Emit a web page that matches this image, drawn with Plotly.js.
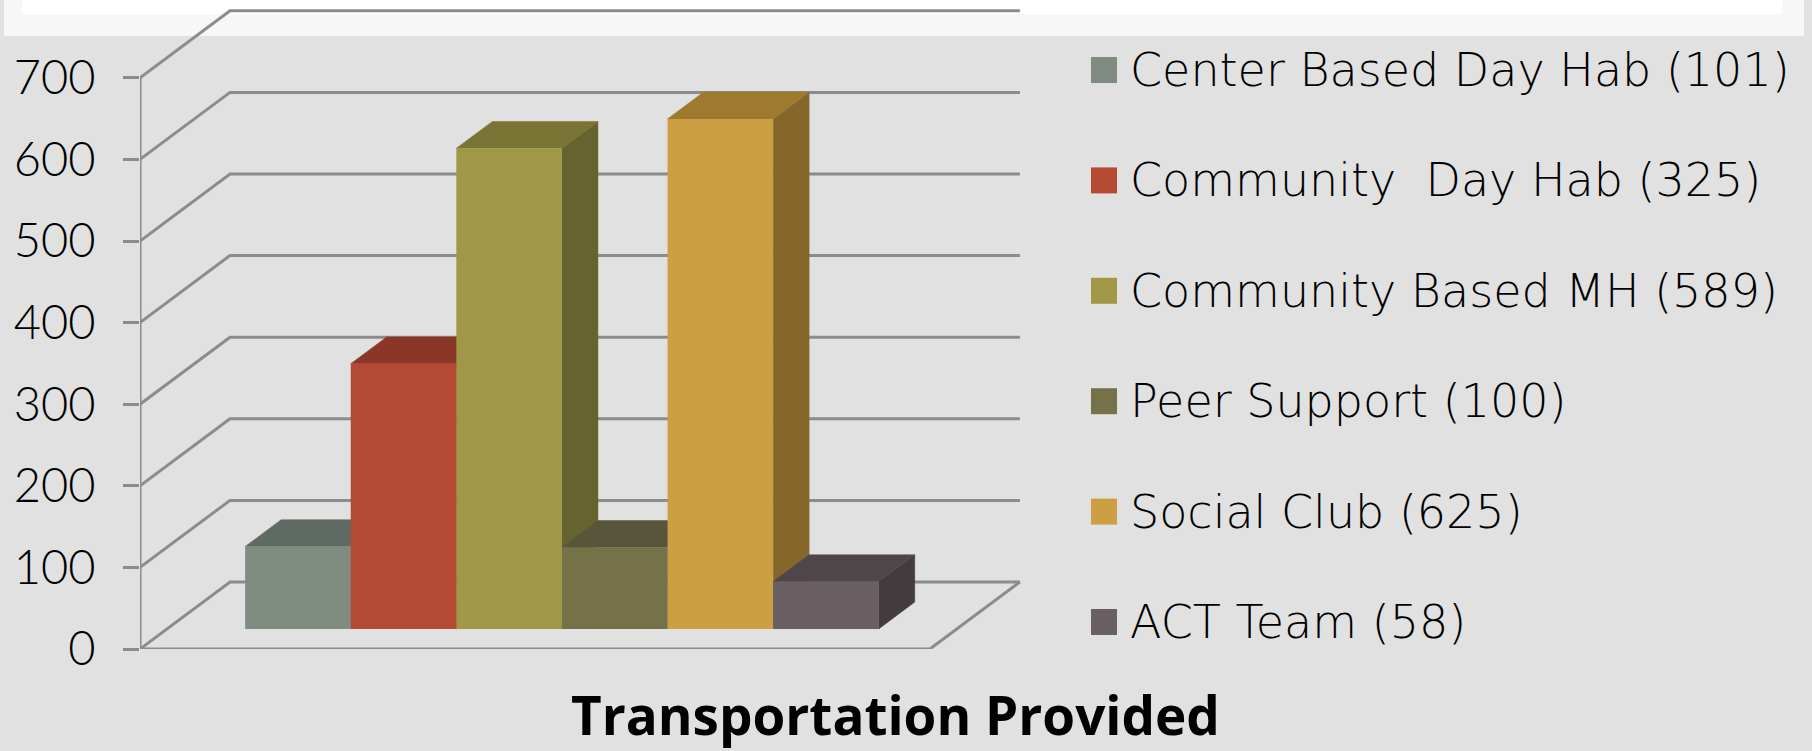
<!DOCTYPE html>
<html><head><meta charset="utf-8">
<script src="https://cdn.plot.ly/plotly-3.0.1.min.js"></script>
<style>html,body{margin:0;padding:0;background:#e1e1e1;overflow:hidden}</style>
</head><body><div id="chart" style="width:1812px;height:751px"></div>
<script>
const seriesNames = ["Center Based Day Hab (101)","Community \u00a0Day Hab (325)","Community Based MH (589)","Peer Support (100)","Social Club (625)","ACT Team (58)"];
const seriesValues = [101,325,589,100,625,58];
const valueTicks = [0,100,200,300,400,500,600,700];
const frontColors = ["#808c82","#b54a34","#a09846","#757249","#cd9f43","#6a5f63"];
const topColors = ["#5f6a62","#8b3727","#7b7535","#58563a","#9e7a2e","#4f4649"];
const sideColors = ["#515a53","#772f21","#67632e","#4a4931","#85672b","#433b3e"];
const chartTitle = "Transportation Provided";

const W = 1812, H = 751;
const plotL = 140, plotR = 1022, plotT = 0, plotB = 649;
const unitPx = 105.6, valPx = 0.816;
const floorW = 7.48, gap = 0.74;
const depthX = 90 / unitPx, depthY = 67 / valPx;
const barFront = 0.3, barBack = 0.7;
const xRange = [0, (plotR - plotL) / unitPx], yRange = [0, (plotB - plotT) / valPx];
const proj = (x, d, v) => [x + d * depthX, v + d * depthY];
const gridColor = "#8c8c8c";
const traces = [];
function line(pts) {
  traces.push({type:"scatter",mode:"lines",x:pts.map(p=>p[0]),y:pts.map(p=>p[1]),
    line:{color:gridColor,width:3},hoverinfo:"skip",showlegend:false,cliponaxis:false,xaxis:"x",yaxis:"y"});
}
function poly(pts, color) {
  const c = pts.concat([pts[0]]);
  traces.push({type:"scatter",mode:"lines",x:c.map(p=>p[0]),y:c.map(p=>p[1]),fill:"toself",fillcolor:color,
    line:{color:color,width:0.5},hoverinfo:"skip",showlegend:false,xaxis:"x",yaxis:"y"});
}
valueTicks.forEach(v => line([proj(0,0,v), proj(0,1,v), proj(floorW,1,v)]));
line([proj(0,0,0), proj(floorW,0,0), proj(floorW,1,0)]);
line([proj(0,0,0), proj(0,0,700)]);
seriesValues.forEach((v,i) => {
  const a = gap + i, b = gap + i + 1;
  poly([proj(b,barFront,0),proj(b,barBack,0),proj(b,barBack,v),proj(b,barFront,v)], sideColors[i]);
  poly([proj(a,barFront,v),proj(b,barFront,v),proj(b,barBack,v),proj(a,barBack,v)], topColors[i]);
});
seriesValues.forEach((v,i) => {
  const p = proj(gap + i + 0.5, barFront, 0);
  traces.push({type:"bar",name:seriesNames[i],x:[p[0]],y:[v],base:[p[1]],width:[1],
    marker:{color:frontColors[i],line:{width:0}},hoverinfo:"skip",showlegend:false,xaxis:"x2",yaxis:"y2"});
});
const px = x => (x - plotL) / (plotR - plotL);
const py = y => 1 - (y - plotT) / (plotB - plotT);
const rect = (x0,y0,x1,y1,color) => ({type:"rect",xref:"paper",yref:"paper",layer:"below",x0:px(x0),x1:px(x1),y0:py(y0),y1:py(y1),fillcolor:color,line:{width:0}});
const legendY = i => 70 + i * 110.4;
const shapes = [rect(4,0,1804,36,"#f7f7f7"), rect(22,0,1782,14,"#ffffff")];
seriesNames.forEach((n,i) => shapes.push(rect(1091,legendY(i)-13,1117,legendY(i)+13,frontColors[i])));
const tickFont = {family:"Lato, sans-serif",size:47,color:"#000000",weight:300};
const legendFont = {family:"'DejaVu Sans', sans-serif",size:46,color:"#000000",weight:200};
const annotations = seriesNames.map((n,i) => ({xref:"paper",yref:"paper",x:px(1128),y:py(legendY(i)),xanchor:"left",yanchor:"middle",
  text:n,showarrow:false,font:legendFont,align:"left"}));
annotations.push({xref:"paper",yref:"paper",x:px(895),y:py(714.5),xanchor:"center",yanchor:"middle",text:chartTitle,showarrow:false,
  font:{family:"'Open Sans', sans-serif",size:53,color:"#000000",weight:700}});
const layout = {
  width:W,height:H,autosize:false,showlegend:false,barmode:"overlay",
  paper_bgcolor:"#e1e1e1",plot_bgcolor:"rgba(0,0,0,0)",
  margin:{l:plotL,r:W-plotR,t:plotT,b:H-plotB,pad:0},
  xaxis:{range:xRange,showgrid:false,zeroline:false,showticklabels:false,ticks:"",showline:false,fixedrange:true},
  yaxis:{range:yRange,showgrid:false,zeroline:false,showline:false,tickmode:"array",tickvals:valueTicks,ticktext:valueTicks.map(String),
    ticks:"outside",ticklen:16,tickwidth:3,tickcolor:gridColor,ticklabelstandoff:18,tickfont:tickFont,fixedrange:true},
  xaxis2:{range:xRange,overlaying:"x",anchor:"y2",visible:false,fixedrange:true},
  yaxis2:{range:yRange,overlaying:"y",anchor:"x2",visible:false,fixedrange:true},
  shapes,annotations
};
Plotly.newPlot("chart",traces,layout,{displayModeBar:false,staticPlot:true});
</script></body></html>
